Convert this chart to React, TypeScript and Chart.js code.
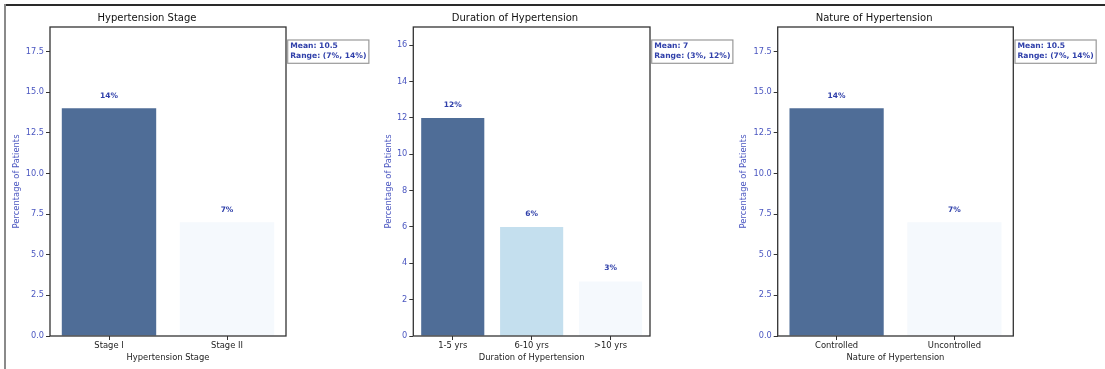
import React, { useEffect, useRef } from "react";
import { Chart, registerables } from "chart.js";

Chart.register(...registerables);

// ---------- data ----------
const stageCategories = ["Stage I", "Stage II"];
const stageValues = [14, 7];
const stageTicks = [0, 2.5, 5, 7.5, 10, 12.5, 15, 17.5];
const stageTickLabels = ["0.0", "2.5", "5.0", "7.5", "10.0", "12.5", "15.0", "17.5"];
const stageMax = 19;
const stageStats = ["Mean: 10.5", "Range: (7%, 14%)"];

const durationCategories = ["1-5 yrs", "6-10 yrs", ">10 yrs"];
const durationValues = [12, 6, 3];
const durationTicks = [0, 2, 4, 6, 8, 10, 12, 14, 16];
const durationTickLabels = ["0", "2", "4", "6", "8", "10", "12", "14", "16"];
const durationMax = 17;
const durationStats = ["Mean: 7", "Range: (3%, 12%)"];

const natureCategories = ["Controlled", "Uncontrolled"];
const natureValues = [14, 7];
const natureTicks = [0, 2.5, 5, 7.5, 10, 12.5, 15, 17.5];
const natureTickLabels = ["0.0", "2.5", "5.0", "7.5", "10.0", "12.5", "15.0", "17.5"];
const natureMax = 19;
const natureStats = ["Mean: 10.5", "Range: (7%, 14%)"];

// ---------- styles ----------
const FONT = "'DejaVu Sans', sans-serif";
const DARK = "#4f6d97";
const MID = "#c4dfee";
const LIGHT = "#f5f9fd";
const BLUE_TEXT = "#4a56c0";
const LABEL_BLUE = "#3040aa";

const decoPlugin = {
  id: "panelDeco",
  afterDatasetsDraw(chart: any, _args: any, opts: any) {
    const { ctx, chartArea } = chart;
    const ds = chart.data.datasets[0];
    const meta = chart.getDatasetMeta(0);
    const y = chart.scales.y;
    ctx.save();
    // value labels
    ctx.font = `bold 7.5px ${FONT}`;
    ctx.fillStyle = LABEL_BLUE;
    ctx.textAlign = "center";
    ctx.textBaseline = "middle";
    meta.data.forEach((bar: any, i: number) => {
      const v = ds.data[i];
      ctx.fillText(`${v}%`, bar.x, y.getPixelForValue(v + 0.5) - 4);
    });
    // axes frame
    ctx.strokeStyle = "#333";
    ctx.lineWidth = 1.3;
    ctx.strokeRect(
      chartArea.left,
      chartArea.top,
      chartArea.right - chartArea.left,
      chartArea.bottom - chartArea.top
    );
    // stats box
    const lines: string[] = opts.lines || [];
    ctx.font = `bold 7.6px ${FONT}`;
    const maxW = Math.max(...lines.map((l) => ctx.measureText(l).width));
    const bx = chartArea.right + 1.7;
    const by = chartArea.top + 13;
    const bw = maxW + 5;
    const bh = 23.3;
    ctx.fillStyle = "#ffffff";
    ctx.fillRect(bx, by, bw, bh);
    ctx.strokeStyle = "#999";
    ctx.lineWidth = 1.2;
    ctx.strokeRect(bx, by, bw, bh);
    ctx.fillStyle = LABEL_BLUE;
    ctx.textAlign = "left";
    ctx.textBaseline = "middle";
    lines.forEach((l, i) => {
      ctx.fillText(l, bx + 2.5, by + 6.5 + i * 9.4);
    });
    ctx.restore();
  },
};

type PanelProps = {
  left: number;
  width: number;
  yWidth: number;
  rightPad: number;
  title: string;
  xTitle: string;
  categories: string[];
  values: number[];
  colors: string[];
  ticks: number[];
  tickLabels: string[];
  max: number;
  stats: string[];
};

function Panel(p: PanelProps) {
  const ref = useRef<HTMLCanvasElement | null>(null);
  useEffect(() => {
    if (!ref.current) return;
    const gridCommon = {
      display: true,
      drawOnChartArea: false,
      drawTicks: true,
      tickLength: 4,
      color: "#333",
      lineWidth: 1,
    };
    const chart = new Chart(ref.current, {
      type: "bar",
      data: {
        labels: p.categories,
        datasets: [
          {
            data: p.values,
            backgroundColor: p.colors,
            borderWidth: 0,
            barPercentage: 0.8,
            categoryPercentage: 1.0,
          },
        ],
      },
      options: {
        responsive: false,
        animation: false,
        devicePixelRatio: 1,
        layout: { padding: { left: 0, right: p.rightPad, top: 0, bottom: 0 } },
        plugins: {
          legend: { display: false },
          tooltip: { enabled: false },
          title: {
            display: true,
            text: p.title,
            color: "#111",
            font: { family: FONT, size: 10, weight: "normal" },
            padding: { top: 12, bottom: 3 },
          },
          panelDeco: { lines: p.stats },
        } as any,
        scales: {
          x: {
            type: "category",
            offset: true,
            grid: { ...gridCommon, offset: false },
            border: { display: false },
            ticks: {
              color: "#222",
              font: { family: FONT, size: 8.4 },
              padding: 1,
              maxRotation: 0,
            },
            title: {
              display: true,
              text: p.xTitle,
              color: "#222",
              font: { family: FONT, size: 8.4 },
              padding: { top: 1.5, bottom: 6.3 },
            },
            afterFit: (s: any) => {
              s.height = 33;
            },
          },
          y: {
            min: 0,
            max: p.max,
            grid: gridCommon,
            border: { display: false },
            afterBuildTicks: (s: any) => {
              s.ticks = p.ticks.map((v) => ({ value: v }));
            },
            ticks: {
              color: BLUE_TEXT,
              font: { family: FONT, size: 8.2 },
              padding: 2,
              callback: (_v: any, i: number) => p.tickLabels[i],
            },
            title: {
              display: true,
              text: "Percentage of Patients",
              color: BLUE_TEXT,
              font: { family: FONT, size: 8.4 },
              padding: { top: 3.3, bottom: 0 },
            },
            afterFit: (s: any) => {
              s.width = p.yWidth;
            },
          },
        },
      } as any,
      plugins: [decoPlugin],
    });
    return () => chart.destroy();
  }, []);
  return (
    <canvas
      ref={ref}
      width={p.width}
      height={369}
      style={{ position: "absolute", left: p.left, top: 0, width: p.width, height: 369 }}
    />
  );
}

export default function App() {
  return (
    <div
      style={{
        position: "absolute",
        left: 0,
        top: 0,
        width: 1105,
        height: 369,
        background: "#fff",
        overflow: "hidden",
      }}
    >
      <div style={{ position: "absolute", left: 4, top: 4, width: 1101, height: 2, background: "#2a2a2a" }} />
      <div style={{ position: "absolute", left: 4, top: 4, width: 2, height: 365, background: "#8a8a8a" }} />
      <Panel
        left={8}
        width={372}
        yWidth={42}
        rightPad={94}
        title="Hypertension Stage"
        xTitle="Hypertension Stage"
        categories={stageCategories}
        values={stageValues}
        colors={[DARK, LIGHT]}
        ticks={stageTicks}
        tickLabels={stageTickLabels}
        max={stageMax}
        stats={stageStats}
      />
      <Panel
        left={380}
        width={355}
        yWidth={33.3}
        rightPad={85}
        title="Duration of Hypertension"
        xTitle="Duration of Hypertension"
        categories={durationCategories}
        values={durationValues}
        colors={[DARK, MID, LIGHT]}
        ticks={durationTicks}
        tickLabels={durationTickLabels}
        max={durationMax}
        stats={durationStats}
      />
      <Panel
        left={735}
        width={370}
        yWidth={42.7}
        rightPad={91.7}
        title="Nature of Hypertension"
        xTitle="Nature of Hypertension"
        categories={natureCategories}
        values={natureValues}
        colors={[DARK, LIGHT]}
        ticks={natureTicks}
        tickLabels={natureTickLabels}
        max={natureMax}
        stats={natureStats}
      />
    </div>
  );
}
